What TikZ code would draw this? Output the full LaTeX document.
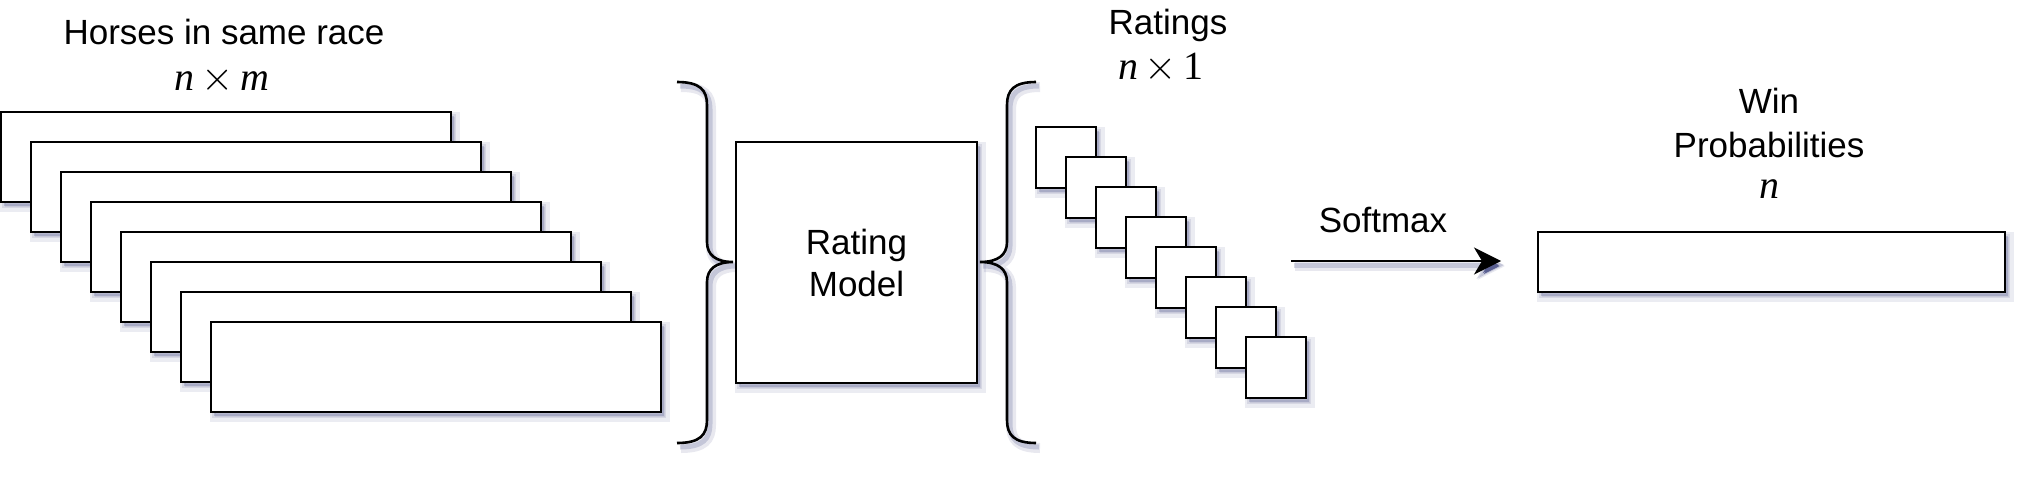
\documentclass[tikz,border=0pt]{standalone}
\usepackage{fontspec}
\setmainfont{Liberation Sans}
\newfontfamily\serf{Liberation Serif}
\usetikzlibrary{shadows,arrows.meta}
\definecolor{shadowc}{RGB}{90,95,145}
\tikzset{
  shad/.style={
    general shadow={fill=shadowc, fill opacity=0.12, draw=shadowc, draw opacity=0.12, line width=5pt, shadow xshift=2pt, shadow yshift=-2.5pt},
    general shadow={fill=shadowc, fill opacity=0.28, draw=shadowc, draw opacity=0.15, line width=2pt, shadow xshift=1.5pt, shadow yshift=-2pt}},
  lshad/.style={
    general shadow={draw=shadowc, draw opacity=0.14, line width=5pt, shadow xshift=2pt, shadow yshift=-2.5pt},
    general shadow={draw=shadowc, draw opacity=0.25, line width=2.5pt, shadow xshift=1.5pt, shadow yshift=-2pt}},
  box/.style={draw=black, fill=white, line width=1.3pt, inner sep=0pt, outer sep=0pt, shad},
  hbox/.style={box, minimum width=225pt, minimum height=45pt, anchor=north west},
  sqbox/.style={box, minimum width=30pt, minimum height=30.5pt, anchor=north west},
  brc/.style={draw=black, line width=1.3pt, lshad},
  arr/.style={draw=black, line width=1pt, -{Stealth[length=13.5pt, width=13.5pt, inset=4pt]}, lshad},
  lbl/.style={font=\fontsize{17.5}{21}\selectfont, inner sep=0pt, anchor=base},
  mlbl/.style={font=\serf\fontsize{20}{24}\selectfont, inner sep=0pt, anchor=base}
}
\begin{document}
\begin{tikzpicture}[x=0.5pt, y=-0.5pt]
\useasboundingbox (0,0) rectangle (2040,477);
% titles
\node[lbl] (t1) at (224,44) {Horses in same race};
\node[mlbl] (t2) at (222,90) {\itshape n\,$\times$\,m};
\node[lbl] (t3) at (1168,34) {Ratings};
\node[mlbl] (t4) at (1161,79) {\itshape n\,$\times$\,\upshape 1};
\node[lbl] (t5) at (1769,113) {Win};
\node[lbl] (t6) at (1769,157) {Probabilities};
\node[mlbl] (t7) at (1769,198) {\itshape n};
% horses stack
\foreach \i in {0,...,7} {
  \node[hbox] (h\i) at ({1+30*\i},{112+30*\i}) {};
}
% brace 1
\path[brc] (677,82) .. controls (700,82) and (707,90) .. (707,105)
  -- (707,242) .. controls (707,255) and (716,262) .. (733,262)
  .. controls (716,262) and (707,269) .. (707,282)
  -- (707,420) .. controls (707,435) and (700,443) .. (677,443);
% rating model
\node[box, minimum width=120.5pt, minimum height=120.5pt, align=center,
      font=\fontsize{17.5}{21}\selectfont] (rm) at (856.5,262.5) {Rating\\Model};
% brace 2
\path[brc] (1036,82) .. controls (1014,82) and (1007,90) .. (1007,105)
  -- (1007,242) .. controls (1007,255) and (998,262) .. (980,262)
  .. controls (998,262) and (1007,269) .. (1007,282)
  -- (1007,420) .. controls (1007,435) and (1014,443) .. (1036,443);
% ratings squares
\foreach \i in {0,...,7} {
  \node[sqbox] (r\i) at ({1036+30*\i},{127+30*\i}) {};
}
% softmax arrow
\coordinate (sa) at (1291,261);
\coordinate (sb) at (1501,261);
\draw[arr] (sa) -- (sb);
\node[lbl] (sm) at (1383,232) {Softmax};
% win probabilities
\node[box, minimum width=233.5pt, minimum height=30pt, anchor=north west] (wp) at (1538,232) {};
\end{tikzpicture}
\end{document}
